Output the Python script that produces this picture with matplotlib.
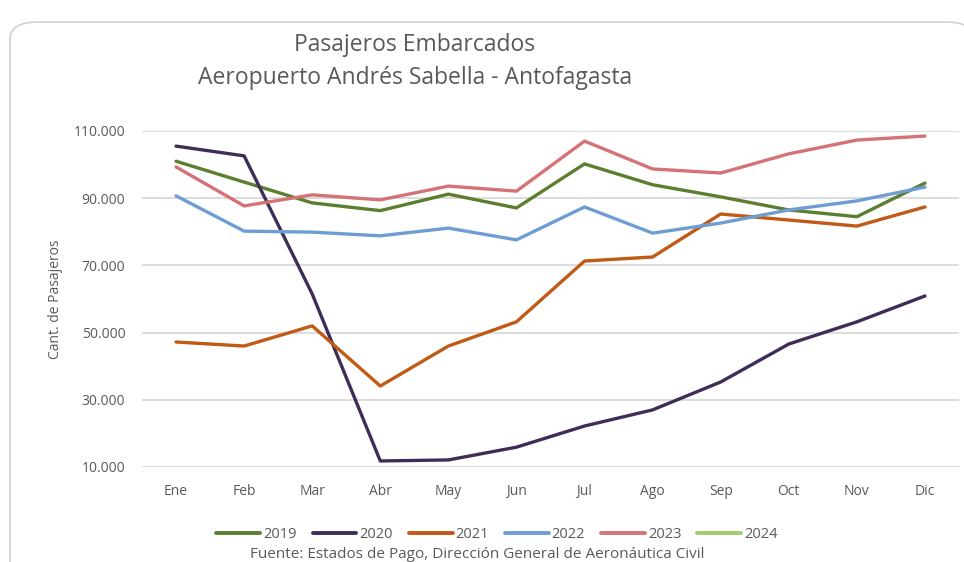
import matplotlib
matplotlib.use("Agg")
import matplotlib.pyplot as plt
from matplotlib.patches import FancyBboxPatch
from matplotlib.ticker import FuncFormatter

meses = ["Ene", "Feb", "Mar", "Abr", "May", "Jun", "Jul", "Ago", "Sep", "Oct", "Nov", "Dic"]

p2019 = [101000, 94800, 88600, 86300, 91200, 87100, 100200, 94000, 90400, 86500, 84500, 94500]
p2020 = [105500, 102600, 61500, 11800, 12100, 15900, 22200, 27000, 35300, 46600, 53200, 60900]
p2021 = [47200, 46000, 52000, 34100, 46000, 53200, 71300, 72500, 85300, 83500, 81700, 87400]
p2022 = [90700, 80200, 79900, 78800, 81100, 77600, 87400, 79600, 82600, 86500, 89200, 93300]
p2023 = [99300, 87700, 91000, 89500, 93600, 92100, 107000, 98700, 97500, 103200, 107300, 108500]
p2024 = []  # sin datos aun, solo aparece en la leyenda

series = [("2019", p2019, "#5B7F2F"),
          ("2020", p2020, "#3E2D57"),
          ("2021", p2021, "#C05A14"),
          ("2022", p2022, "#6E9DD4"),
          ("2023", p2023, "#D57275"),
          ("2024", p2024, "#9DD06A")]

yticks = [10000, 30000, 50000, 70000, 90000, 110000]

gris = "#595959"
plt.rcParams['font.family'] = ['Open Sans', 'DejaVu Sans']

fig = plt.figure(figsize=(9.64, 5.62), dpi=100)

# marco redondeado del grafico
marco = FancyBboxPatch((10 / 964, -0.05), 1.0, 1.05 - 22 / 562,
                       boxstyle="round,pad=0,rounding_size=0.03",
                       transform=fig.transFigure, facecolor="white",
                       edgecolor="#D0D0D0", linewidth=1.2, zorder=-5)
fig.patches.append(marco)

ax = fig.add_axes([142 / 964, 1 - 467 / 562, (959 - 142) / 964, (467 - 131) / 562])
ax.set_facecolor("none")

x = list(range(len(meses)))
for nombre, vals, color in series:
    ax.plot(x[:len(vals)], vals, color=color, linewidth=2.4, label=nombre,
            solid_capstyle="round", solid_joinstyle="round")

ax.set_xlim(-0.5, 11.5)
ax.set_ylim(10000, 110000)
ax.set_yticks(yticks)
ax.yaxis.set_major_formatter(FuncFormatter(lambda v, p: f"{int(v):,}".replace(",", ".")))
ax.set_xticks(x)
ax.set_xticklabels(meses)
ax.grid(axis="y", color="#D9D9D9", linewidth=1.3)
ax.set_axisbelow(True)
for s in ax.spines.values():
    s.set_visible(False)
ax.tick_params(length=0, colors=gris, labelsize=10)
ax.tick_params(axis="x", pad=12)
ax.tick_params(axis="y", pad=12)

ax.set_ylabel("Cant. de Pasajeros", color=gris, fontsize=10, labelpad=8)

fig.text(415 / 964, 1 - 45 / 562, "Pasajeros Embarcados", ha="center", va="center",
         fontsize=16.5, color=gris)
fig.text(415 / 964, 1 - 78 / 562, "Aeropuerto Andrés Sabella - Antofagasta", ha="center",
         va="center", fontsize=16.5, color=gris)

leg = fig.legend(loc="center", bbox_to_anchor=(497 / 964, 1 - 535 / 562), ncol=6,
                 frameon=False, fontsize=10.5, handlelength=3.0, handletextpad=0.2,
                 columnspacing=1.1, labelcolor=gris, borderpad=0.1)
for h in leg.get_lines():
    h.set_linewidth(2.8)

fig.text(477 / 964, 1 - 554 / 562,
         "Fuente: Estados de Pago, Dirección General de Aeronáutica Civil",
         ha="center", va="center", fontsize=11, color=gris)

fig.savefig("out.png", dpi=100)
